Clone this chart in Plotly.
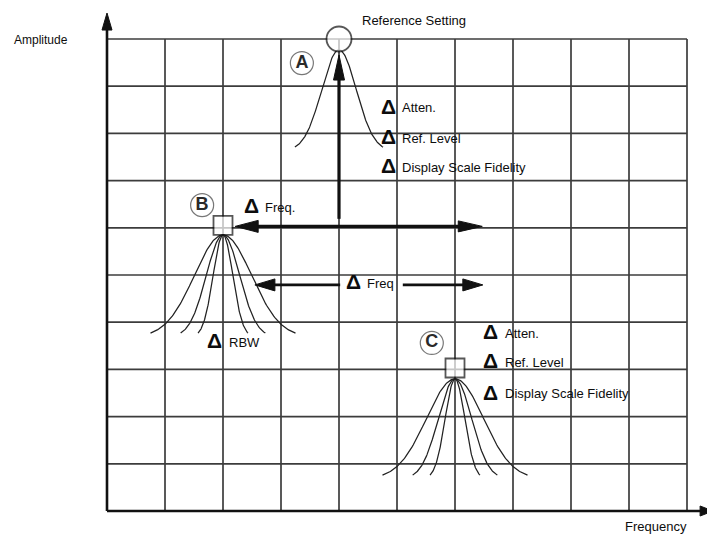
import numpy as np
import plotly.graph_objects as go

# ---------------- data ----------------
grid_cols = list(range(0, 11))          # vertical grid lines (frequency divisions)
grid_rows = list(range(0, 11))          # horizontal grid lines (amplitude divisions)

# reference points A (circle), B and C (squares)
point_labels = ["A", "B", "C"]
point_x = [4.0, 2.0, 6.0]
point_y = [10.0, 6.05, 3.03]

# circled letter badges
badge_x = [3.36, 1.64, 5.60]
badge_y = [9.49, 6.48, 3.56]

# response curves: centre, peak level, base level, half-widths at base
curve_a_center, curve_a_peak, curve_a_base = 4.0, 9.77, 7.71
curve_a_halfwidths = [0.76]
curve_b_center, curve_b_peak, curve_b_base = 2.0, 5.85, 3.77
curve_b_halfwidths = [0.43, 0.73, 1.25]
curve_c_center, curve_c_peak, curve_c_base = 6.0, 2.80, 0.76
curve_c_halfwidths = [0.43, 0.73, 1.25]

# arrows: start, tip
amp_arrow_x = [4.0, 4.0]
amp_arrow_y = [6.19, 9.66]
freq_b_arrow_x = [2.21, 6.47]
freq_b_arrow_y = [6.03, 6.03]
freq_low_left_x = [4.02, 2.55]
freq_low_right_x = [5.10, 6.48]
freq_low_y = 4.79
y_axis_top = 10.55
x_axis_end = 10.45

# text labels
labels_a = ["Atten.", "Ref. Level", "Display Scale Fidelity"]
labels_a_y = [8.54, 7.90, 7.27]
labels_a_x = 4.74
labels_c = ["Atten.", "Ref. Level", "Display Scale Fidelity"]
labels_c_y = [3.77, 3.14, 2.48]
labels_c_x = 6.50

# ---------------- geometry helpers ----------------
# the page body has an 8px margin, so the figure starts 8px in from the window corner
OFF = 8
W, H = 715 - OFF, 534 - OFF
X_RANGE = [-(107 - OFF) / 58, (715 - 107) / 58]
Y_RANGE = [(511 - 534) / 47.2, (511 - OFF) / 47.2]
PX_X = W / (X_RANGE[1] - X_RANGE[0])
PX_Y = H / (Y_RANGE[1] - Y_RANGE[0])

fig = go.Figure()

GRID_COLOR = "#3c3c3c"


def line(xs, ys, width, color="#111111", dash=None):
    fig.add_trace(go.Scatter(x=xs, y=ys, mode="lines", hoverinfo="skip",
                             line=dict(color=color, width=width, dash=dash),
                             showlegend=False))


def head(tip_x, tip_y, from_x, from_y, length_px, half_px, color="#111111"):
    dxp = (tip_x - from_x) * PX_X
    dyp = (tip_y - from_y) * PX_Y
    n = np.hypot(dxp, dyp)
    ux, uy = dxp / n, dyp / n
    bx, by = -ux * length_px, -uy * length_px
    px, py = -uy * half_px, ux * half_px
    xs = [tip_x, tip_x + (bx + px) / PX_X, tip_x + (bx - px) / PX_X, tip_x]
    ys = [tip_y, tip_y + (by + py) / PX_Y, tip_y + (by - py) / PX_Y, tip_y]
    fig.add_trace(go.Scatter(x=xs, y=ys, mode="lines", fill="toself",
                             fillcolor=color, line=dict(color=color, width=1),
                             hoverinfo="skip", showlegend=False))


def bell(center, peak, base, halfwidth, color="#222222", width=1.25):
    s = halfwidth / 1.8
    xs = np.linspace(center - halfwidth, center + halfwidth, 161)
    e0 = np.exp(-(halfwidth / s) ** 2)
    g = (np.exp(-((xs - center) / s) ** 2) - e0) / (1 - e0)
    line(xs, base + (peak - base) * g, width, color)


# grid
for gx in grid_cols[1:]:
    line([gx, gx], [grid_rows[0], grid_rows[-1]], 1.7, GRID_COLOR)
for gy in grid_rows[1:]:
    line([grid_cols[0], grid_cols[-1]], [gy, gy], 1.7, GRID_COLOR)

# axes with arrows
line([0, 0], [0, y_axis_top - 12 / PX_Y], 2.6, "#111111")
head(0, y_axis_top, 0, 0, 17, 5)
line([0, x_axis_end - 8 / PX_X], [0, 0], 2.6, "#111111")
head(x_axis_end, 0, 0, 0, 13, 5)

# response curves
for hw in curve_a_halfwidths:
    bell(curve_a_center, curve_a_peak, curve_a_base, hw)
for hw in curve_b_halfwidths:
    bell(curve_b_center, curve_b_peak, curve_b_base, hw)
for hw in curve_c_halfwidths:
    bell(curve_c_center, curve_c_peak, curve_c_base, hw)

# thick arrows
line(amp_arrow_x, [amp_arrow_y[0], amp_arrow_y[1] - 15 / PX_Y], 3.2)
head(amp_arrow_x[1], amp_arrow_y[1], amp_arrow_x[0], amp_arrow_y[0], 25, 5.5)

line([freq_b_arrow_x[0] + 15 / PX_X, freq_b_arrow_x[1] - 15 / PX_X], freq_b_arrow_y, 3.2)
head(freq_b_arrow_x[0], freq_b_arrow_y[0], freq_b_arrow_x[1], freq_b_arrow_y[1], 23, 6)
head(freq_b_arrow_x[1], freq_b_arrow_y[1], freq_b_arrow_x[0], freq_b_arrow_y[0], 24, 5.5)

line([freq_low_left_x[0], freq_low_left_x[1] + 15 / PX_X], [freq_low_y, freq_low_y], 2.8)
head(freq_low_left_x[1], freq_low_y, freq_low_left_x[0], freq_low_y, 20, 6)
line([freq_low_right_x[0], freq_low_right_x[1] - 15 / PX_X], [freq_low_y, freq_low_y], 2.8)
head(freq_low_right_x[1], freq_low_y, freq_low_right_x[0], freq_low_y, 20, 6)

# reference point markers
fig.add_trace(go.Scatter(
    x=point_x, y=point_y, mode="markers", hoverinfo="skip", showlegend=False,
    marker=dict(symbol=["circle", "square", "square"], size=[25, 19, 19],
                color="white", line=dict(color="#111111", width=1.8))))

# circled letter badges
fig.add_trace(go.Scatter(
    x=badge_x, y=badge_y, mode="markers+text", text=point_labels,
    textposition="middle center", hoverinfo="skip", showlegend=False,
    textfont=dict(family="Liberation Sans, Arial", size=18, color="#2a2a2a", weight="bold"),
    marker=dict(symbol="circle", size=23, color="white",
                line=dict(color="#777777", width=1.2))))

FONT = "Liberation Sans, Arial, sans-serif"
ann = []


def text(x, y, s, size=13, xanchor="left", bold=False):
    ann.append(dict(x=x, y=y, xref="x", yref="y", text=s, showarrow=False,
                    xanchor=xanchor, yanchor="middle",
                    font=dict(family=FONT, size=size, color="#0d0d0d",
                              weight="bold" if bold else "normal")))


def delta_label(x, y, s, gap=0.32):
    text(x - 0.05, y + 0.04, "Δ", size=21, bold=True)
    text(x + gap, y, s, size=13)


for s, yy in zip(labels_a, labels_a_y):
    delta_label(labels_a_x, yy, s)
for s, yy in zip(labels_c, labels_c_y):
    delta_label(labels_c_x, yy, s)
delta_label(2.38, 6.44, "Freq.", gap=0.31)
delta_label(1.74, 3.58, "RBW", gap=0.33)
delta_label(4.14, 4.83, "Freq", gap=0.31)

text(4.36, 10.40, "Reference Setting", size=13)
text((12 - 107) / 58, (511 - 40) / 47.2, "Amplitude", size=12)
text((623 - 107) / 58, (511 - 526) / 47.2, "Frequency", size=13)

fig.update_layout(
    width=W, height=H, margin=dict(l=0, r=0, t=0, b=0),
    paper_bgcolor="white", plot_bgcolor="white",
    xaxis=dict(range=X_RANGE, visible=False, fixedrange=True),
    yaxis=dict(range=Y_RANGE, visible=False, fixedrange=True),
    annotations=ann, showlegend=False,
)

fig.write_html("out.html")
